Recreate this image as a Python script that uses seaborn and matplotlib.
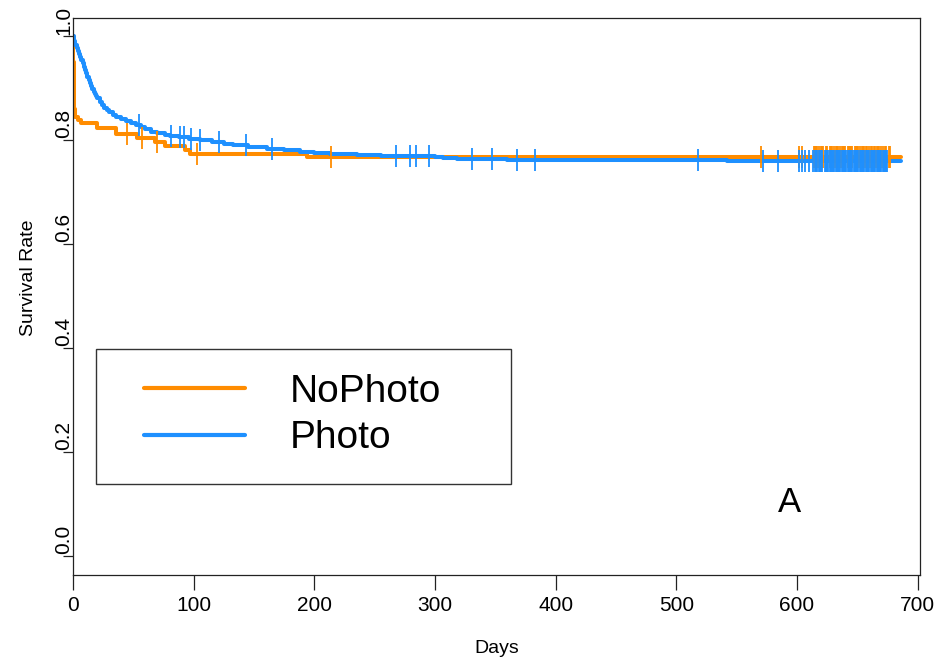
import numpy as np
import pandas as pd
import matplotlib
matplotlib.use("Agg")
import matplotlib.pyplot as plt
from matplotlib.transforms import ScaledTranslation
from matplotlib.patches import Rectangle
import seaborn as sns

# ---------------- data ----------------
groups = ["NoPhoto", "Photo"]
colors = {"NoPhoto": "#FF8C00", "Photo": "#1E90FF"}

nophoto_days = [0, 0.3, 0.7, 1.2, 2, 4, 7, 20, 36, 53, 68, 76, 93, 97, 194, 686]
nophoto_surv = [1.0, 0.95, 0.90, 0.86, 0.845, 0.838, 0.832, 0.824, 0.812, 0.803,
                0.796, 0.789, 0.781, 0.774, 0.768, 0.768]

photo_days = [0, 1, 2, 3, 4, 5, 6, 7, 8, 9, 10, 11, 12, 13, 14, 15, 16, 17, 18, 19,
              20, 22, 24, 26, 28, 30, 33, 36, 40, 44, 48, 52, 56, 60, 65, 70, 76,
              80, 88, 96, 105, 115, 125, 133, 145, 161, 175, 188, 200, 213, 235,
              255, 296, 300, 307, 318, 338, 360, 445, 542, 686]
photo_surv = [1.0, 0.99, 0.982, 0.977, 0.972, 0.966, 0.96, 0.954, 0.948, 0.941,
              0.934, 0.928, 0.922, 0.916, 0.910, 0.904, 0.898, 0.893, 0.888, 0.884,
              0.880, 0.873, 0.867, 0.862, 0.857, 0.853, 0.848, 0.844, 0.840, 0.836,
              0.832, 0.828, 0.825, 0.821, 0.816, 0.813, 0.810, 0.808, 0.805, 0.802,
              0.800, 0.797, 0.793, 0.790, 0.787, 0.783, 0.780, 0.777, 0.775, 0.774,
              0.771, 0.770, 0.769, 0.767, 0.765, 0.764, 0.763, 0.762, 0.761, 0.760,
              0.760]

nophoto_censor = [45, 57, 70, 103, 214, 570, 602, 604, 614, 615, 616, 617, 618, 620,
                  621, 622, 624, 625, 627, 628, 629, 631, 632, 633, 634, 636, 637,
                  638, 639, 640, 642, 643, 644, 645, 646, 648, 649, 650, 651, 652,
                  654, 655, 656, 657, 658, 660, 661, 662, 664, 665, 666, 667, 668,
                  670, 671, 673, 674, 676, 677]
photo_censor = [55, 81, 89, 92, 98, 105, 121, 143, 165, 268, 279, 284, 295, 331, 347,
                368, 383, 518, 572, 584, 602, 604, 607, 610, 613, 615, 616, 617, 618,
                619, 620, 621, 623, 624, 625, 626, 627, 628, 629, 630, 631, 632, 633,
                634, 635, 636, 637, 638, 639, 640, 641, 642, 643, 644, 645, 646, 647,
                648, 649, 650, 651, 652, 653, 654, 655, 656, 657, 658, 659, 660, 661,
                662, 663, 664, 665, 666, 667, 668, 669, 670, 671, 672, 673, 674, 675]

x_ticks = [0, 100, 200, 300, 400, 500, 600, 700]
y_ticks = [0.0, 0.2, 0.4, 0.6, 0.8, 1.0]
y_ticklabels = ["0.0", "0.2", "0.4", "0.6", "0.8", "1.0"]

# ---------------- build tables ----------------
curves = pd.concat([
    pd.DataFrame({"day": nophoto_days, "surv": nophoto_surv, "group": "NoPhoto"}),
    pd.DataFrame({"day": photo_days, "surv": photo_surv, "group": "Photo"}),
], ignore_index=True)


def surv_at(days, surv, t):
    days = np.asarray(days)
    surv = np.asarray(surv)
    idx = np.searchsorted(days, np.asarray(t), side="right") - 1
    return surv[idx]


cens_np = pd.DataFrame({"day": nophoto_censor,
                        "surv": surv_at(nophoto_days, nophoto_surv, nophoto_censor)})
cens_ph = pd.DataFrame({"day": photo_censor,
                        "surv": surv_at(photo_days, photo_surv, photo_censor)})

# ---------------- figure ----------------
sns.set_style("ticks")
plt.rcParams["font.family"] = ["Liberation Sans", "DejaVu Sans"]
plt.rcParams["text.color"] = "black"
plt.rcParams["axes.labelcolor"] = "black"
plt.rcParams["xtick.color"] = "black"
plt.rcParams["ytick.color"] = "black"

fig = plt.figure(figsize=(9.44, 6.69), dpi=100)
ax = fig.add_axes([73 / 944, 1 - 575 / 669, 847 / 944, 557 / 669])

sns.lineplot(data=curves, x="day", y="surv", hue="group", hue_order=groups,
             palette=colors, estimator=None, sort=False, drawstyle="steps-post",
             linewidth=2.9, ax=ax, legend=True)

sns.scatterplot(data=cens_np, x="day", y="surv", color=colors["NoPhoto"],
                marker="|", s=230, linewidth=1.3, ax=ax, legend=False, zorder=3)
sns.scatterplot(data=cens_ph, x="day", y="surv", color=colors["Photo"],
                marker="|", s=270, linewidth=1.3, ax=ax, legend=False, zorder=4)

ax.set_xlim(0, 702)
ax.set_ylim(-19 / 520, 1 + 18 / 520)

for s in ax.spines.values():
    s.set_visible(True)
    s.set_color("#222222")
    s.set_linewidth(0.9)

ax.set_xticks(x_ticks)
ax.set_xticklabels([str(v) for v in x_ticks])
ax.set_yticks(y_ticks)
ax.set_yticklabels(y_ticklabels)
ax.tick_params(axis="x", length=11, width=0.9, pad=4, labelsize=15,
               color="#222222", labelcolor="black")
ax.tick_params(axis="y", length=7.5, width=0.9, pad=-1, labelsize=15,
               color="#222222", labelcolor="black")
offset = ScaledTranslation(0, 1.5 / 100, fig.dpi_scale_trans)
for lab in ax.get_yticklabels():
    lab.set_rotation(90)
    lab.set_ha("center")
    lab.set_va("bottom")
    lab.set_transform(lab.get_transform() + offset)

ax.set_xlabel("Days", fontsize=14, color="black")
ax.set_ylabel("Survival Rate", fontsize=14, color="black")
ax.xaxis.set_label_coords(0.5, -65 / 557)
ax.yaxis.set_label_coords(-0.0425, 0.533)

# legend
handles, labels = ax.get_legend_handles_labels()
leg = ax.legend(handles, labels, loc="center left",
                bbox_to_anchor=(144 / 944, 1 - 415 / 669),
                bbox_transform=fig.transFigure, frameon=False, fontsize=28,
                handlelength=2.6, handletextpad=1.16, labelspacing=0.28,
                borderpad=0, borderaxespad=0)
for h in leg.get_lines():
    h.set_linewidth(3)
for t in leg.get_texts():
    t.set_color("black")
fig.add_artist(Rectangle((96 / 944, 1 - 484 / 669), 415 / 944, 135 / 669,
                         transform=fig.transFigure, fill=False,
                         edgecolor="#333333", linewidth=1.0))

fig.text(790 / 944, 1 - 502 / 669, "A", ha="center", va="center", fontsize=25,
         color="black")

fig.savefig("out.png", dpi=100)
